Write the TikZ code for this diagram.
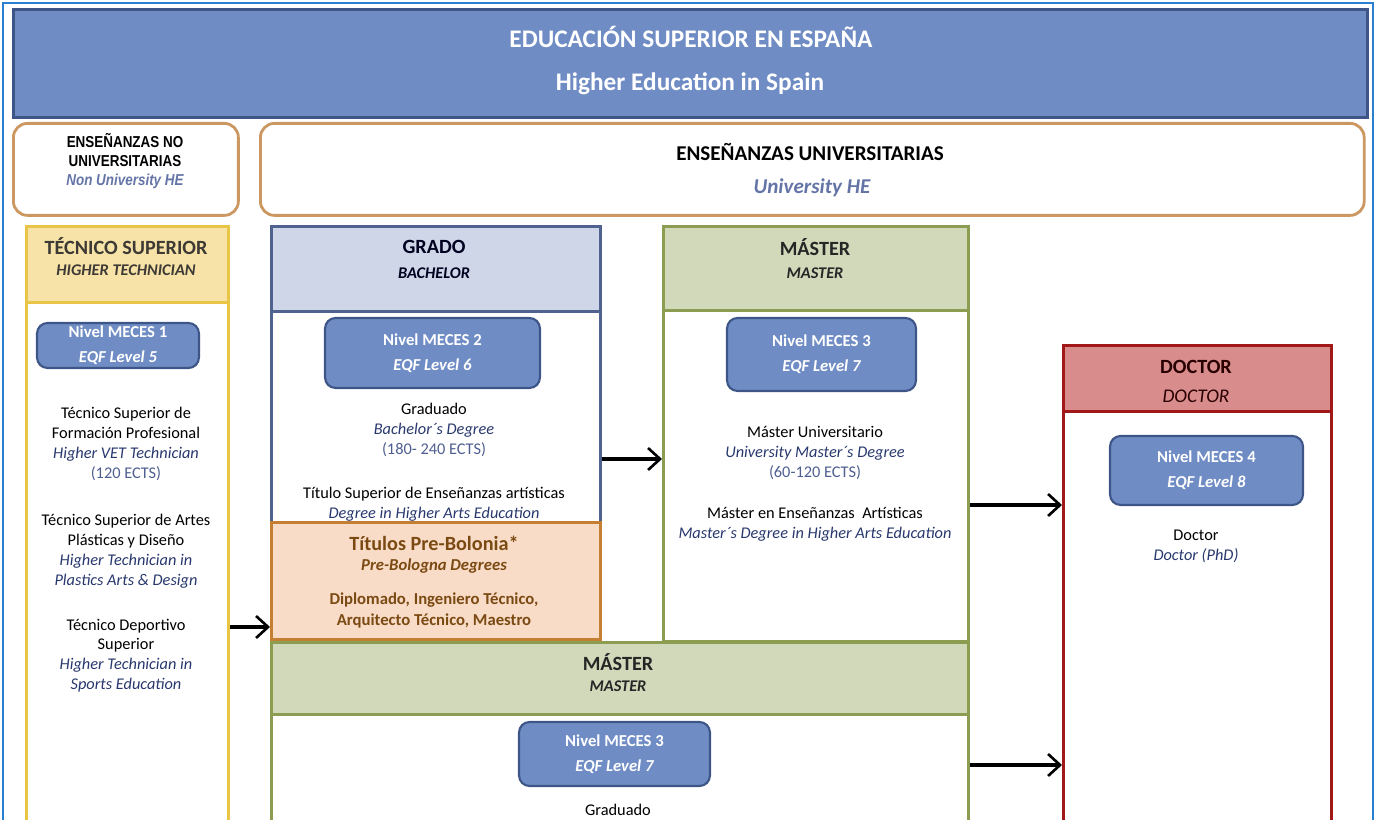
\documentclass[tikz,border=0pt]{standalone}
\usepackage{fontspec}
\setmainfont{Carlito}
\newfontfamily\arialn[FakeStretch=0.85]{Liberation Sans}
\usetikzlibrary{arrows.meta}
\usetikzlibrary{positioning}
\definecolor{frameblue}{HTML}{2A7FD0}
\definecolor{hdrfill}{HTML}{6F8CC4}
\definecolor{hdrline}{HTML}{3D5687}
\definecolor{tanline}{HTML}{CC9862}
\definecolor{yelline}{HTML}{E8C547}
\definecolor{yelfill}{HTML}{F7E3A8}
\definecolor{gradoline}{HTML}{4F6290}
\definecolor{gradofill}{HTML}{CED6E8}
\definecolor{preline}{HTML}{C47F33}
\definecolor{prefill}{HTML}{F9DCC8}
\definecolor{pretext}{HTML}{7A4A12}
\definecolor{mastline}{HTML}{8C9C50}
\definecolor{mastfill}{HTML}{D2D9BA}
\definecolor{docline}{HTML}{A01818}
\definecolor{docfill}{HTML}{D98C8C}
\definecolor{ital}{HTML}{28386E}
\definecolor{ects}{HTML}{4E5E90}
\definecolor{unihe}{HTML}{6474A6}
\tikzset{box/.style = {draw, line width=1.6pt, inner sep=0, anchor=north west}}
\tikzset{level/.style = {draw=hdrline, fill=hdrfill, line width=1.2pt, rounded corners=6pt,
                         text=white, align=center, inner sep=0,
                         font=\fontsize{9.5}{14}\selectfont\bfseries}}
\tikzset{txt/.style = {align=center, inner sep=0, font=\fontsize{9.3}{11.3}\selectfont}}
\tikzset{ttl/.style = {inner sep=0, font=\fontsize{11.5}{13}\selectfont\bfseries}}
\tikzset{sub/.style = {inner sep=0, font=\fontsize{9.3}{11}\selectfont\bfseries\itshape}}
\tikzset{arr/.style = {-{Straight Barb[length=2.4mm,width=4.4mm,line width=1.5pt]}, line width=1.8pt}}
\newcommand{\itl}[1]{\textcolor{ital}{\itshape #1}}
\begin{document}
\begin{tikzpicture}[x=0.02cm, y=-0.02cm]
  \useasboundingbox (0,0) rectangle (1377,820);
  \draw [frameblue, line width=1.2pt] (3,830) -- (3,3) -- (1373,3) -- (1373,830);

  % header
  \node [box, draw=hdrline, fill=hdrfill, minimum width=27.08cm, minimum height=2.16cm] (hdr) at (12,8) {};
  \node [inner sep=0, text=white, font=\fontsize{14.4}{16}\selectfont\bfseries] (title) at (691,37) {EDUCACIÓN SUPERIOR EN ESPAÑA};
  \node [inner sep=0, text=white, font=\fontsize{14.4}{16}\selectfont\bfseries] (subtitle) at (690,84) {Higher Education in Spain};

  \node [box, draw=tanline, rounded corners=8pt, minimum width=4.5cm, minimum height=1.84cm] (nonuni) at (12,122) {};
  \node [align=center, inner sep=0, font=\arialn\fontsize{9}{10.7}\selectfont\bfseries] (nonunitx) at (125,161)
        {ENSEÑANZAS NO\\UNIVERSITARIAS\\\textcolor{unihe}{\itshape Non University HE}};
  \node [box, draw=tanline, rounded corners=8pt, minimum width=22.08cm, minimum height=1.84cm] (uni) at (259,122) {};
  \node [inner sep=0, font=\fontsize{12}{14}\selectfont\bfseries] (unitx) at (810,152) {ENSEÑANZAS UNIVERSITARIAS};
  \node [inner sep=0, text=unihe, font=\fontsize{12}{14}\selectfont\bfseries\itshape] (unihetx) at (812,188) {University HE};

  % tecnico superior
  \node [box, draw=yelline, minimum width=4.04cm, minimum height=12.1cm] (tsup) at (25,225) {};
  \node [box, draw=yelline, fill=yelfill, minimum width=4.04cm, minimum height=1.52cm] (tsuphd) at (25,225) {};
  \node [ttl, text=black!80!yellow!60!black] (tsupttl) at (126,246) {TÉCNICO SUPERIOR};
  \node [sub, text=black!80!yellow!60!black] (tsupsub) at (126,270) {HIGHER TECHNICIAN};
  \node [level, minimum width=3.24cm, minimum height=0.9cm] (meces1) at (118,345.5) {Nivel MECES 1\\\itshape EQF Level 5};
  \node [txt] (ts1) at (126,444) {Técnico Superior de\\Formación Profesional\\\itl{Higher VET Technician}\\\textcolor{ects}{(120 ECTS)}};
  \node [txt] (ts2) at (126,551) {Técnico Superior de Artes\\Plásticas y Diseño\\\itl{Higher Technician in}\\\itl{Plastics Arts \& Design}};
  \node [txt] (ts3) at (126,655.5) {Técnico Deportivo\\Superior\\\itl{Higher Technician in}\\\itl{Sports Education}};

  % grado
  \node [box, draw=gradoline, minimum width=6.58cm, minimum height=5.92cm] (grado) at (270,225) {};
  \node [box, draw=gradoline, fill=gradofill, minimum width=6.58cm, minimum height=1.7cm] (gradohd) at (270,225) {};
  \node [ttl, text=black!70!blue!40!black] (gradottl) at (434,247) {GRADO};
  \node [sub, text=black!70!blue!40!black] (gradosub) at (434,273) {BACHELOR};
  \node [level, minimum width=4.3cm, minimum height=1.4cm] (meces2) at (432.5,353) {Nivel MECES 2\\\itshape EQF Level 6};
  \node [txt] (gr1) at (434,430) {Graduado\\\itl{Bachelor´s Degree}\\\textcolor{ects}{(180- 240 ECTS)}};

  % pre-bolonia
  \node [box, draw=preline, fill=prefill, minimum width=6.58cm, minimum height=2.34cm] (prebol) at (270,521) {};
  \node [txt] (gr2) at (434,504) {Título Superior de Enseñanzas artísticas\\\itl{Degree in Higher Arts Education}};
  \node [inner sep=0, text=pretext, font=\fontsize{11.5}{14}\selectfont\bfseries] (prettl) at (434,543) {Títulos Pre-Bolonia*};
  \node [sub, text=pretext, font=\fontsize{9.5}{11}\selectfont\bfseries\itshape] (presub) at (434,566) {Pre-Bologna Degrees};
  \node [txt, text=pretext, font=\fontsize{9.5}{11.8}\selectfont\bfseries] (pretx) at (434,610.5) {Diplomado, Ingeniero Técnico,\\Arquitecto Técnico, Maestro};

  % master (top)
  \node [box, draw=mastline, minimum width=6.1cm, minimum height=8.3cm] (mastera) at (662,225) {};
  \node [box, draw=mastline, fill=mastfill, minimum width=6.1cm, minimum height=1.68cm] (masterahd) at (662,225) {};
  \node [ttl, text=black!85] (masterattl) at (815,247) {MÁSTER};
  \node [sub, text=black!85] (masterasub) at (815,273) {MASTER};
  \node [level, minimum width=3.78cm, minimum height=1.46cm] (meces3a) at (821.5,354.5) {Nivel MECES 3\\\itshape EQF Level 7};
  \node [txt] (ma1) at (815,453) {Máster Universitario\\\itl{University Master´s Degree}\\\textcolor{ects}{(60-120 ECTS)}};
  \node [txt] (ma2) at (815,524) {Máster en Enseñanzas\ \ Artísticas\\\itl{Master´s Degree in Higher Arts Education}};

  % master (bottom)
  \node [box, draw=mastline, minimum width=13.94cm, minimum height=3.8cm] (masterb) at (270,641) {};
  \node [box, draw=mastline, fill=mastfill, minimum width=13.94cm, minimum height=1.44cm] (masterbhd) at (270,641) {};
  \node [ttl, text=black!85] (masterbttl) at (618,662) {MÁSTER};
  \node [sub, text=black!85] (masterbsub) at (618,686) {MASTER};
  \node [level, minimum width=3.82cm, minimum height=1.28cm] (meces3b) at (614.5,754) {Nivel MECES 3\\\itshape EQF Level 7};
  \node [txt] (mb1) at (618,810) {Graduado};

  % doctor
  \node [box, draw=docline, minimum width=5.36cm, minimum height=9.7cm] (doctor) at (1062,344) {};
  \node [box, draw=docline, fill=docfill, minimum width=5.36cm, minimum height=1.32cm] (doctorhd) at (1062,344) {};
  \node [ttl, text=black!60!red!40!black] (doctorttl) at (1196,367) {DOCTOR};
  \node [inner sep=0, text=black!60!red!40!black, font=\fontsize{11}{13}\selectfont\itshape] (doctorsub) at (1196,396) {DOCTOR};
  \node [level, minimum width=3.86cm, minimum height=1.38cm] (meces4) at (1206.5,470.5) {Nivel MECES 4\\\itshape EQF Level 8};
  \node [txt] (dr1) at (1196,546) {Doctor\\\itl{Doctor (PhD)}};

  % arrows
  \coordinate (r1) at (0,627);
  \coordinate (r2) at (0,459);
  \coordinate (r3) at (0,505);
  \coordinate (r4) at (0,765);
  \draw [arr] (tsup.east |- r1) -- (prebol.west |- r1);
  \draw [arr] (grado.east |- r2) -- (mastera.west |- r2);
  \draw [arr] (mastera.east |- r3) -- (doctor.west |- r3);
  \draw [arr] (masterb.east |- r4) -- (doctor.west |- r4);
\end{tikzpicture}
\end{document}
